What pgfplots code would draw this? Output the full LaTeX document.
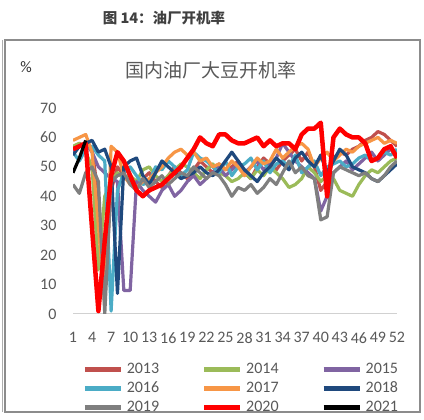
\documentclass[border=0pt]{standalone}
\usepackage{pgfplots}
\usepackage{pgfplotstable}
\pgfplotsset{compat=1.18}
\usepackage{fontspec}
\setmainfont{Carlito}
\newfontfamily\cjk{Noto Sans CJK SC}
\definecolor{c13}{HTML}{C0504D}
\definecolor{c14}{HTML}{9BBB59}
\definecolor{c15}{HTML}{8064A2}
\definecolor{c16}{HTML}{4BACC6}
\definecolor{c17}{HTML}{F79646}
\definecolor{c18}{HTML}{1F497D}
\definecolor{c19}{HTML}{7F7F7F}
\definecolor{c20}{HTML}{FF0000}
\definecolor{c21}{HTML}{000000}
\definecolor{lblgray}{HTML}{595959}
\definecolor{boxgray}{HTML}{8C8C8C}
\pgfplotstableread{
w a13 a14 a15 a16 a17 a18 a19 a20 a21
1 56 57 55 55 59 54 44 56 48
2 58 58 57 52 60 57 41 57 53
3 57 55 58 56 61 58 48 58 59
4 56 50 55 57 55 59 50 29 nan
5 40 15 50 54 30 55 45 1 nan
6 10 40 48 52 3 56 0 25 nan
7 42 45 46 1 57 50 45 47 nan
8 50 48 45 42 55 7 47 55 nan
9 47 46 8 48 47 50 48 52 nan
10 45 47 8 50 44 52 44 47 nan
11 44 45 45 47 43 53 42 42 nan
12 46 49 42 44 45 47 46 40 nan
13 48 50 40 45 46 44 43 42 nan
14 45 47 38 50 48 48 45 43 nan
15 43 45 42 49 50 52 47 44 nan
16 47 47 44 52 53 50 44 46 nan
17 50 49 40 50 55 48 46 48 nan
18 48 51 42 47 56 46 48 50 nan
19 46 50 45 49 54 47 47 53 nan
20 49 48 47 55 55 48 50 56 nan
21 52 46 44 53 52 50 48 60 nan
22 50 49 46 52 53 48 46 58 nan
23 48 51 48 50 50 47 48 57 nan
24 51 48 50 48 51 49 47 61 nan
25 49 47 47 52 49 52 44 61 nan
26 50 45 49 47 52 55 40 59 nan
27 52 46 51 50 50 52 43 58 nan
28 48 48 48 51 47 49 42 58 nan
29 46 46 50 53 50 47 44 59 nan
30 50 49 52 49 53 45 41 60 nan
31 53 47 49 52 51 48 43 57 nan
32 51 50 51 48 52 50 46 59 nan
33 49 48 53 51 56 53 44 57 nan
34 52 46 58 52 53 51 48 58 nan
35 54 43 55 50 55 49 52 58 nan
36 56 44 52 54 57 53 48 56 nan
37 52 46 50 48 58 55 50 61 nan
38 55 50 48 50 56 52 47 63 nan
39 50 48 46 52 50 50 46 63 nan
40 42 45 35 47 53 54 32 65 nan
41 45 47 40 50 55 48 33 40 nan
42 53 46 48 51 52 52 48 60 nan
43 55 42 50 52 54 56 50 63 nan
44 54 41 52 50 56 54 49 61 nan
45 56 40 49 51 55 50 48 60 nan
46 57 44 51 53 57 49 47 60 nan
47 59 47 53 54 58 48 48 58 nan
48 60 49 55 52 59 46 46 52 nan
49 62 48 52 53 60 45 45 53 nan
50 61 50 54 55 58 47 47 56 nan
51 59 52 56 54 59 49 50 57 nan
52 57 53 55 56 58 51 52 53 nan
}\datatable
\begin{document}
\begin{tikzpicture}[x=1pt,y=1pt]
\path[use as bounding box] (0,0) rectangle (424,420);
\fill[white] (0,0) rectangle (424,420);
\draw[boxgray, line width=1.3pt] (5,8) rectangle (420,380);
\draw[boxgray!70, line width=0.8pt] (2,8) -- (2,380);
\node[font=\cjk\bfseries\fontsize{14.5}{16}\selectfont, text=black!75] at (164,402) {图 14：油厂开机率};
\node[font=\cjk\fontsize{19}{21}\selectfont, text=lblgray] at (211,350) {国内油厂大豆开机率};
\node[font=\fontsize{16}{18}\selectfont, text=black!80] at (26,353) {\%};
\begin{axis}[
  at={(73pt,106pt)}, anchor=south west,
  scale only axis, width=324pt, height=206pt,
  xmin=1, xmax=52, ymin=0, ymax=70,
  axis x line*=bottom, axis y line*=left,
  y axis line style={draw=none},
  x axis line style={draw=black!18, line width=1pt, -},
  major tick length=0pt,
  xtick={1,4,...,52}, ytick={0,10,...,70},
  tick label style={font=\fontsize{16}{18}\selectfont, text=lblgray},
  /pgf/number format/assume math mode=true,
  yticklabel style={xshift=-13pt},
  xticklabel style={yshift=-15pt},
  legend columns=3,
  legend style={at={(axis description cs:0.028,-0.229)}, anchor=north west,
    draw=none, fill=none, inner sep=0pt, row sep=3pt,
    font=\fontsize{16}{18}\selectfont, text=lblgray,
    nodes={inner sep=2pt, text height=10pt, text depth=2pt},
    /tikz/every odd column/.append style={column sep=1.5pt},
    /tikz/every even column/.append style={column sep=40.5pt}},
  legend image code/.code={\draw[#1, line width=5pt] (0pt,0pt) -- (36pt,0pt);},
  every axis plot/.append style={line width=3.2pt, line join=round, mark=none},
]
\addplot[c13] table[x=w,y=a13]{\datatable};
\addplot[c14] table[x=w,y=a14]{\datatable};
\addplot[c15] table[x=w,y=a15]{\datatable};
\addplot[c16] table[x=w,y=a16]{\datatable};
\addplot[c17] table[x=w,y=a17]{\datatable};
\addplot[c18] table[x=w,y=a18]{\datatable};
\addplot[c19] table[x=w,y=a19]{\datatable};
\addplot[c20, line width=4.5pt] table[x=w,y=a20]{\datatable};
\addplot[c21] table[x=w,y=a21]{\datatable};
\legend{2013,2014,2015,2016,2017,2018,2019,2020,2021}
\end{axis}
\end{tikzpicture}
\end{document}
